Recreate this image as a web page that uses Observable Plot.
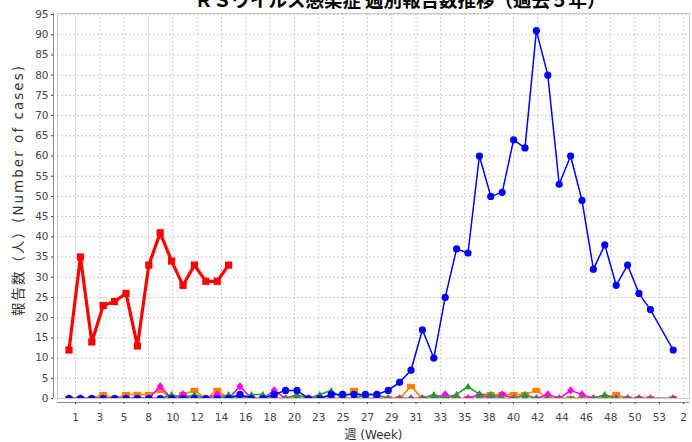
<!DOCTYPE html>
<html><head><meta charset="utf-8">
<script src="https://cdn.jsdelivr.net/npm/d3@7"></script>
<script src="https://cdn.jsdelivr.net/npm/@observablehq/plot@0.6"></script>
<style>
body{margin:0;background:#fff;overflow:hidden;}
#wrap{position:relative;width:692px;height:442px;overflow:hidden;background:#fff;}
#chart{position:absolute;left:0;top:0;}
#title{position:absolute;left:190px;width:420px;top:-11px;text-align:center;font:bold 18.5px "Noto Sans CJK JP",sans-serif;line-height:20px;white-space:nowrap;color:#000;}
</style></head><body>
<div id="wrap"><div id="chart"></div><div id="title"></div></div>
<script>
const titleText = "ＲＳウイルス感染症 週別報告数推移（過去５年）";
const yLabel = "報告数（人）(Number of cases)";
const xLabel = "週 (Week)";
const tickLabels = ["1","3","5","8","10","12","14","16","18","20","23","25","27","29","31","33","35","38","40","42","44","46","48","50","53","2"];
const yTicks = [0,5,10,15,20,25,30,35,40,45,50,55,60,65,70,75,80,85,90,95];

const currentWeeks = [1,2,3,4,5,6,7,8,9,10,11,12,13,14,15];
const current = [12,35,14,23,24,26,13,33,41,34,28,33,29,29,33];

const pastWeeks = [1,2,3,4,5,6,7,8,9,10,11,12,13,14,15,16,17,18,19,20,21,22,23,24,25,26,27,28,29,30,31,32,33,34,35,36,37,38,39,40,41,42,43,44,45,46,47,48,49,50,51,52,54];
const past1 = [0,0,0,0,0,0,0,0,0,0,0,0,0,0,0, 1,0,0,1,2,2,0,0,1,1,1,1,1, 2,4,7,17,10,25,37,36,60,50,51,64,62,91, 80,53,60,49,32,38,28,33,26,22, 12];
const past2 = [0,0,0,0,0,0,0,0,0, 1,0,1,0,0,1,0,1,1,0,0,1,0,1,2,0,0,1,1, 0,0,0,0,1,0,1,3,1,1,0,0,1,0, 0,0,0,0,0,1,0,0,0,0, 0];
const past3 = [0,0,0,0,0,0,0,0, 3,0,1,0,0,1,0,3,0,0,2,0, 0,0,0,0,0,0,0,0,0,0,0,0,0, 1,0,0,1,0,1,0,0,0,1,0,2,1, 0,0,0,0,0,0, 0];
const past4 = [0,0,0, 1,0,1,1,1,2,0,1,2,0,2,0, 0,0,0,0,0,0,0,0,0,0, 2,0,0,0,0,3,0,0,0,0,0,0,1,1,1,1,2,0,0,0,0,0,0,1, 0,0,0, 0];
const past5 = [0,0,0,0,0,0,0,0,0,0,0,0,0,0,0,0,0,0,0,0,0,0,0,0,0,0,0,0,0,0,0,0,0,0,0,0,0,0,0,0,0,0,0,0,0,0,0,0,0,0,0,0,0];

document.getElementById("title").textContent = titleText;

// marker shapes (fixed pixel geometry, size ignored)
const hrect = {draw(ctx){ ctx.rect(-4,-2.6,8,5.2); }};
const tri2 = {draw(ctx){ ctx.moveTo(0,2.6); ctx.lineTo(2.6,-2); ctx.lineTo(-2.6,-2); ctx.closePath(); }};
const tri = {draw(ctx){ ctx.moveTo(0,-3.6); ctx.lineTo(3.6,3); ctx.lineTo(-3.6,3); ctx.closePath(); }};
const diam = {draw(ctx){ ctx.moveTo(0,-4.2); ctx.lineTo(3.6,0); ctx.lineTo(0,4.2); ctx.lineTo(-3.6,0); ctx.closePath(); }};
const sq = {draw(ctx){ ctx.rect(-3.6,-3.6,7.2,7.2); }};
const circ = {draw(ctx){ ctx.moveTo(3.6,0); ctx.arc(0,0,3.6,0,2*Math.PI); }};

const series = [
  {weeks: pastWeeks, values: past5, color:"#a08cd2", symbol: tri2, sw:1.3},
  {weeks: pastWeeks, values: past4, color:"#ff8000", symbol: hrect, sw:1.5},
  {weeks: pastWeeks, values: past3, color:"#ff00ff", symbol: diam, sw:1.5},
  {weeks: pastWeeks, values: past2, color:"#1f9a2e", symbol: tri, sw:1.5},
  {weeks: pastWeeks, values: past1, color:"#0000ff", symbol: circ, sw:1.5},
  {weeks: currentWeeks, values: current, color:"#ff0000", symbol: sq, sw:3.2}
];

const xDomain = [-0.01, 55.43];
const tickStart = 1.57, tickStep = 2.134;
const tickPos = tickLabels.map((_, i) => tickStart + i*tickStep);
const labelOf = new Map(tickPos.map((p, i) => [p, tickLabels[i]]));

const marks = [
  Plot.gridY(yTicks, {stroke:"#cfcfcf", strokeOpacity:1, strokeDasharray:"2,2"}),
  Plot.gridX(tickPos, {stroke:"#cfcfcf", strokeOpacity:1, strokeDasharray:"2,2"}),
  Plot.frame({stroke:"#c8c8c8"}),
];
for (const s of series) {
  const rows = s.weeks.map((w, i) => ({w, v: s.values[i]}));
  marks.push(Plot.line(rows, {x:"w", y:"v", stroke:s.color, strokeWidth:s.sw, clip:true}));
  marks.push(Plot.dot(rows, {x:"w", y:"v", fill:s.color, stroke:"none", symbol:()=>s.symbol, r:4, clip:true}));
}
marks.push(
  Plot.ruleX([xDomain[0]], {dx:-4, stroke:"#8a8a8a"}),
  Plot.ruleY([0], {dy:4, stroke:"#8a8a8a"}),
  Plot.axisY(yTicks, {label:null, tickSize:2, tickPadding:3, dx:-4, color:"#444", fontSize:10.5}),
  Plot.axisX(tickPos, {label:null, tickSize:2, tickPadding:9, dy:4, color:"#444", fontSize:10.5, tickFormat: d => labelOf.get(d)}),
  Plot.text([yLabel], {frameAnchor:"left", textAnchor:"middle", dx:-39, dy:-15, rotate:-90, fontSize:13.5, fill:"#333", text:d=>d, className:"ylab"}),
  Plot.text([xLabel], {frameAnchor:"bottom", dy:40, fontSize:12, fill:"#333", text:d=>d})
);

const chart = Plot.plot({
  width:692, height:442,
  marginLeft:57, marginRight:3, marginTop:13, marginBottom:44,
  x:{type:"linear", domain:xDomain, axis:null},
  y:{domain:[0,95.25], axis:null},
  symbol:{type:"identity"},
  style:{fontFamily:"'DejaVu Sans','Noto Sans CJK JP',sans-serif", fontSize:"10.5px", background:"white", color:"#444"},
  marks
});
document.getElementById("chart").appendChild(chart);
const yl = chart.querySelector(".ylab text");
if (yl) { yl.setAttribute("textLength", "250"); yl.setAttribute("lengthAdjust", "spacing"); }
</script>
</body></html>
